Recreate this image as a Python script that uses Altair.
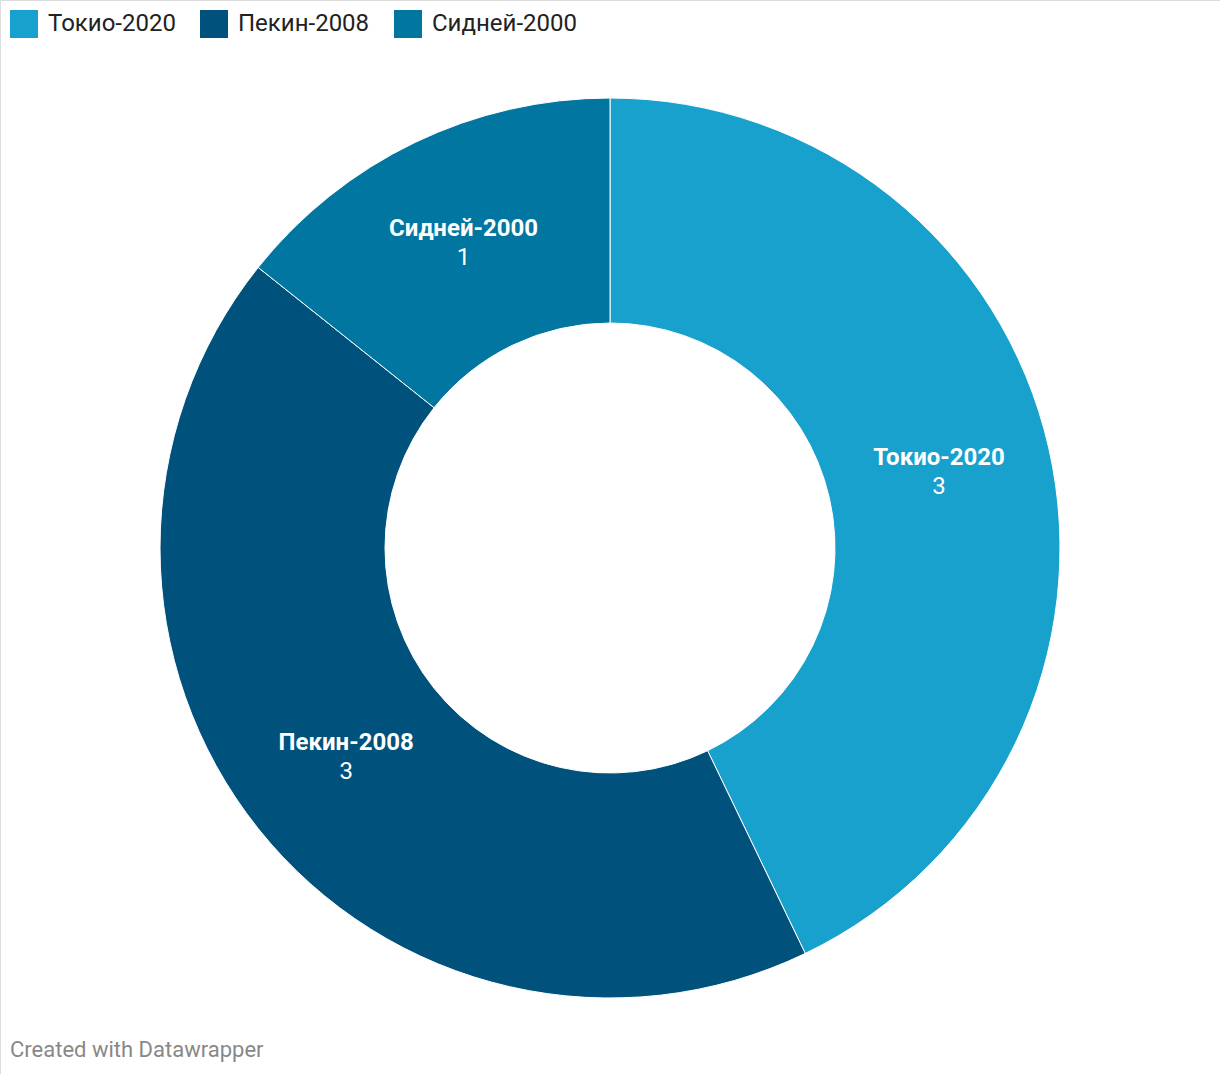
import altair as alt
import pandas as pd

names = ["Токио-2020", "Пекин-2008", "Сидней-2000"]
values = [3, 3, 1]
colors = ["#18a1cd", "#00527c", "#0076a1"]
order = [0, 1, 2]

df = pd.DataFrame({"name": names, "value": values, "order": order})
df["vlabel"] = df["value"].astype(str)

CX, CY = 610, 548
R_OUT, R_IN = 450, 225
R_MID = (R_OUT + R_IN) / 2

color_scale = alt.Scale(domain=names, range=colors)

base = alt.Chart(df).encode(
    theta=alt.Theta("value:Q", stack=True),
    order=alt.Order("order:Q"),
)

arcs = base.mark_arc(
    outerRadius=R_OUT, innerRadius=R_IN, stroke="white", strokeWidth=1
).encode(
    x=alt.value(CX),
    y=alt.value(CY),
    color=alt.Color(
        "name:N",
        scale=color_scale,
        sort=names,
        legend=alt.Legend(
            title=None,
            orient="none",
            legendX=10,
            legendY=10,
            direction="horizontal",
            symbolType="square",
            symbolSize=784,
            symbolStrokeWidth=0,
            symbolOpacity=1,
            labelFont="Roboto",
            labelFontSize=24,
            labelColor="#222222",
            labelOffset=10,
            columnPadding=24,
            padding=0,
        ),
    ),
)

names_txt = base.mark_text(
    radius=R_MID, font="Roboto", fontSize=24, fontWeight="bold", color="white", dy=-15
).encode(x=alt.value(CX), y=alt.value(CY), text="name:N")

vals_txt = base.mark_text(
    radius=R_MID, font="Roboto", fontSize=24, color="white", dy=14
).encode(x=alt.value(CX), y=alt.value(CY), text="vlabel:N")

footer = alt.Chart(pd.DataFrame({"t": ["Created with Datawrapper"]})).mark_text(
    align="left", baseline="middle", font="Roboto", fontSize=22, color="#888888"
).encode(x=alt.value(10), y=alt.value(1050), text="t:N")

chart = (
    alt.layer(arcs, names_txt, vals_txt, footer)
    .properties(width=1220, height=1074, padding=0, autosize=alt.AutoSizeParams(type="none"))
    .configure_view(stroke=None)
    .configure(background="white")
)

chart.save("out.html", embed_options={"renderer": "svg", "actions": False})
